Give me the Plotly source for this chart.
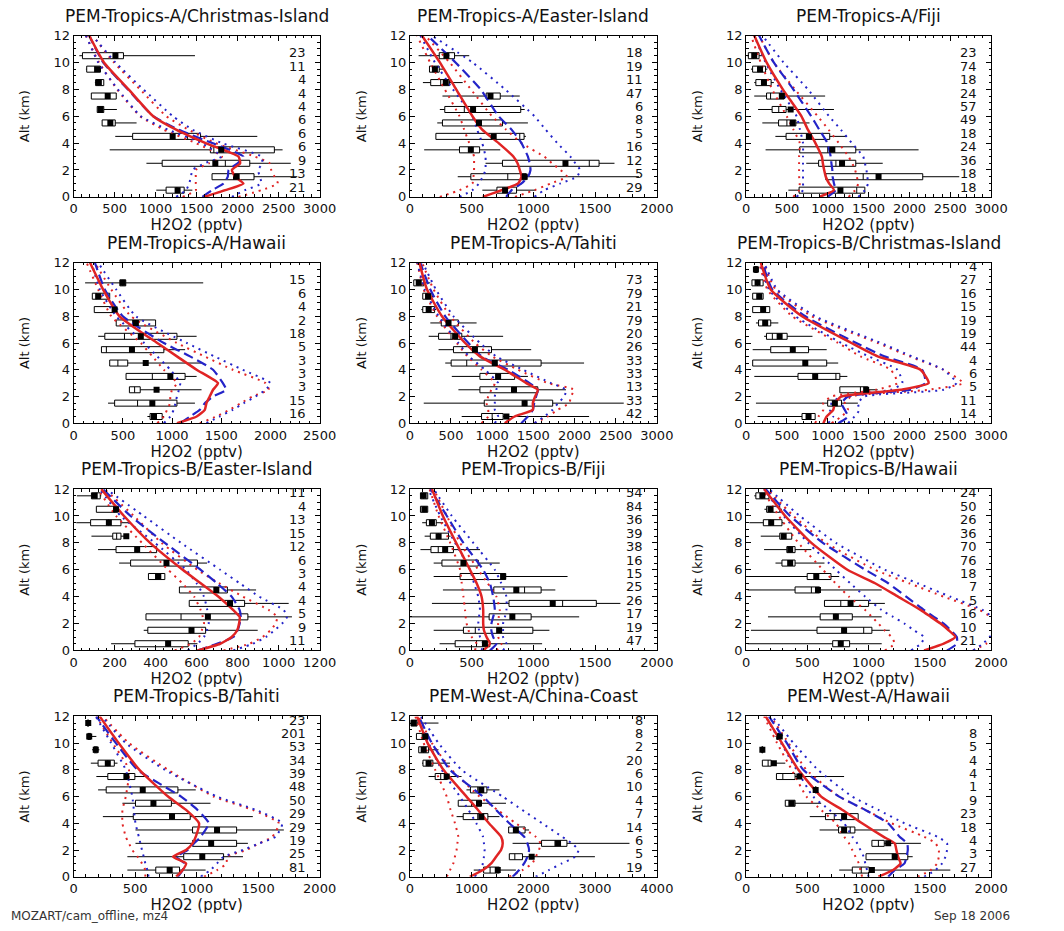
import plotly.graph_objects as go

# ---------------- common -----------------
ALT = [0, 0.5, 1, 1.5, 2, 2.5, 3, 4, 5, 6, 8, 10, 12]
BINS11 = [10.5, 9.5, 8.5, 7.5, 6.5, 5.5, 4.5, 3.5, 2.5, 1.5, 0.5]
BINS12 = [11.5, 10.5, 9.5, 8.5, 7.5, 6.5, 5.5, 4.5, 3.5, 2.5, 1.5, 0.5]

TITLES = ["PEM-Tropics-A/Christmas-Island", "PEM-Tropics-A/Easter-Island", "PEM-Tropics-A/Fiji",
          "PEM-Tropics-A/Hawaii", "PEM-Tropics-A/Tahiti", "PEM-Tropics-B/Christmas-Island",
          "PEM-Tropics-B/Easter-Island", "PEM-Tropics-B/Fiji", "PEM-Tropics-B/Hawaii",
          "PEM-Tropics-B/Tahiti", "PEM-West-A/China-Coast", "PEM-West-A/Hawaii"]
XMAX = [3000, 2000, 3000, 2500, 3000, 3000, 1200, 2000, 2000, 2000, 4000, 2000]
XDTICK = [500, 500, 500, 500, 500, 500, 200, 500, 500, 500, 1000, 500]

# ---------------- panel 1: A / Christmas-Island -----------------
p1_red = [1590, 1850, 2070, 1970, 1930, 2030, 2010, 1610, 1250, 970, 670, 370, 190]
p1_blue = [1570, 1690, 1830, 1880, 1890, 2000, 2070, 1690, 1280, 970, 660, 360, 190]
p1_rlo = [1330, 1490, 1490, 1490, 1490, 1650, 1810, 1490, 1100, 810, 530, 310, 150]
p1_rhi = [2010, 2290, 2490, 2450, 2410, 2390, 2210, 1730, 1400, 1130, 810, 490, 230]
p1_blo = [1250, 1370, 1410, 1430, 1450, 1600, 1800, 1560, 1150, 820, 540, 300, 150]
p1_bhi = [1930, 2090, 2290, 2270, 2250, 2300, 2290, 1810, 1450, 1210, 850, 510, 230]
p1_min = [70, 150, 260, 216, 288, 348, 508, 440, 888, 1688, 1008]
p1_q1 = [108, 160, 268, 216, 288, 348, 720, 1668, 1080, 1688, 1128]
p1_med = [520, 260, 300, 400, 320, 440, 1390, 1710, 1850, 1950, 1260]
p1_q3 = [608, 328, 368, 520, 368, 508, 1548, 2448, 2148, 2200, 1348]
p1_max = [1480, 328, 368, 520, 528, 768, 2240, 2548, 2648, 2728, 1448]
p1_mean = [510, 288, 308, 416, 328, 448, 1208, 1800, 1728, 1988, 1268]
p1_n = [23, 11, 4, 4, 4, 6, 6, 6, 9, 13, 21]

# ---------------- panel 2: A / Easter-Island -----------------
p2_red = [590, 745, 877, 904, 890, 872, 838, 719, 586, 507, 375, 243, 98]
p2_blue = [780, 824, 904, 956, 977, 970, 956, 904, 824, 719, 573, 370, 143]
p2_rlo = [243, 402, 507, 515, 520, 520, 520, 481, 440, 402, 283, 164, 58]
p2_rhi = [851, 1009, 1141, 1273, 1220, 1150, 1088, 904, 780, 666, 494, 322, 124]
p2_blo = [402, 507, 560, 590, 613, 613, 613, 586, 545, 507, 349, 203, 85]
p2_bhi = [1009, 1088, 1220, 1353, 1379, 1340, 1300, 1194, 1100, 1009, 771, 507, 177]
p2_min = [71, 159, 106, 264, 243, 222, 211, 116, 613, 388, 587]
p2_q1 = [238, 159, 169, 618, 283, 264, 211, 402, 750, 494, 705]
p2_med = [300, 200, 250, 660, 441, 560, 890, 500, 1453, 793, 770]
p2_q3 = [362, 238, 322, 732, 898, 750, 925, 565, 1532, 943, 864]
p2_max = [481, 270, 428, 890, 930, 956, 940, 732, 1657, 1855, 1022]
p2_mean = [296, 203, 291, 653, 512, 560, 679, 494, 1260, 930, 771]
p2_n = [18, 19, 11, 47, 6, 8, 5, 16, 12, 5, 29]

# ---------------- panel 3: A / Fiji -----------------
p3_red = [896, 1076, 1016, 976, 956, 940, 928, 849, 757, 677, 450, 251, 100]
p3_blue = [996, 1096, 1076, 1060, 1056, 1045, 1036, 996, 896, 797, 578, 339, 159]
p3_rlo = [578, 649, 657, 650, 649, 649, 649, 657, 580, 498, 319, 179, 60]
p3_rhi = [1255, 1335, 1374, 1355, 1335, 1300, 1255, 1135, 1010, 876, 598, 339, 159]
p3_blo = [618, 697, 697, 697, 697, 697, 697, 697, 660, 618, 418, 239, 100]
p3_bhi = [1374, 1454, 1494, 1484, 1474, 1455, 1434, 1295, 1160, 1016, 757, 458, 200]
p3_min = [10, 60, 100, 100, 147, 199, 359, 239, 737, 976, 518]
p3_q1 = [28, 80, 120, 251, 319, 398, 490, 657, 888, 976, 649]
p3_med = [90, 150, 200, 300, 400, 500, 800, 1000, 1100, 1434, 1355]
p3_q3 = [159, 239, 307, 466, 490, 610, 1024, 1343, 1343, 2163, 1454]
p3_max = [200, 260, 340, 968, 1076, 777, 1235, 2112, 1673, 2610, 1454]
p3_mean = [100, 171, 219, 438, 546, 570, 769, 1056, 1175, 1622, 1155]
p3_n = [23, 74, 18, 24, 57, 49, 18, 24, 36, 18, 18]

# ---------------- panel 4: A / Hawaii -----------------
p4_red = [1050, 1250, 1333, 1350, 1383, 1417, 1467, 1250, 1050, 850, 467, 300, 167]
p4_blue = [1083, 1183, 1283, 1333, 1417, 1550, 1517, 1417, 1183, 917, 500, 317, 217]
p4_rlo = [850, 917, 950, 980, 983, 1000, 1050, 917, 800, 683, 383, 250, 133]
p4_rhi = [1283, 1450, 1583, 1700, 1817, 1983, 1950, 1617, 1330, 1050, 583, 383, 217]
p4_blo = [917, 983, 1017, 1035, 1050, 1070, 1083, 983, 850, 717, 433, 267, 183]
p4_bhi = [1350, 1483, 1617, 1730, 1850, 1950, 2000, 1717, 1430, 1150, 633, 433, 250]
p4_min = [117, 190, 210, 433, 250, 283, 367, 533, 567, 350, 750]
p4_q1 = [470, 190, 210, 433, 317, 283, 367, 533, 567, 417, 777]
p4_med = [500, 230, 400, 600, 517, 333, 450, 800, 620, 650, 820]
p4_q3 = [530, 367, 417, 833, 1050, 917, 550, 1133, 677, 1050, 900]
p4_max = [1317, 367, 417, 833, 1250, 1133, 1300, 1250, 1300, 1233, 920]
p4_mean = [500, 250, 417, 633, 683, 593, 733, 983, 843, 800, 817]
p4_n = [15, 6, 4, 2, 18, 5, 3, 3, 3, 15, 16]

# ---------------- panel 5: A / Tahiti -----------------
p5_red = [1153, 1273, 1494, 1494, 1522, 1554, 1414, 1153, 851, 671, 390, 209, 116]
p5_blue = [1353, 1434, 1494, 1510, 1534, 1554, 1454, 1193, 871, 711, 430, 249, 128]
p5_rlo = [871, 952, 952, 932, 952, 990, 1032, 871, 700, 570, 329, 169, 90]
p5_rhi = [1514, 1675, 1795, 1936, 1956, 1996, 1675, 1313, 1000, 791, 490, 289, 149]
p5_blo = [1032, 1072, 1032, 1032, 1032, 1050, 1072, 912, 720, 590, 350, 181, 90]
p5_bhi = [1514, 1634, 1735, 1800, 1876, 1896, 1715, 1373, 1050, 851, 530, 317, 157]
p5_min = [48, 157, 140, 249, 229, 349, 430, 510, 590, 169, 630]
p5_q1 = [48, 157, 157, 382, 349, 530, 502, 851, 851, 904, 871]
p5_med = [100, 210, 220, 450, 500, 800, 691, 1050, 1250, 1400, 1000]
p5_q3 = [169, 269, 301, 590, 631, 992, 1594, 1273, 1554, 1735, 1133]
p5_max = [249, 290, 320, 811, 1133, 1474, 2116, 1434, 1896, 2598, 2177]
p5_mean = [108, 221, 229, 470, 550, 791, 1032, 1072, 1265, 1394, 1173]
p5_n = [73, 79, 21, 79, 20, 26, 33, 33, 13, 33, 42]

# ---------------- panel 6: B / Christmas-Island -----------------
p6_red = [946, 987, 1067, 1087, 1168, 1893, 2235, 2135, 1611, 1289, 685, 302, 181]
p6_blue = [1128, 1248, 1208, 1168, 1248, 2014, 2195, 2155, 1692, 1349, 725, 322, 201]
p6_rlo = [846, 886, 946, 946, 1047, 1591, 1852, 1772, 1400, 1128, 564, 262, 161]
p6_rhi = [1047, 1168, 1248, 1208, 1289, 2235, 2658, 2416, 2000, 1611, 805, 362, 209]
p6_blo = [1007, 1067, 1027, 1047, 1168, 1772, 1913, 1852, 1500, 1168, 604, 282, 169]
p6_bhi = [1248, 1329, 1389, 1369, 1450, 2416, 2577, 2416, 2030, 1651, 846, 382, 221]
p6_min = [101, 72, 81, 81, 121, 221, 81, 81, 101, 1148, 121, 141]
p6_q1 = [101, 72, 81, 81, 153, 250, 302, 81, 636, 1148, 999, 685]
p6_med = [121, 140, 160, 210, 230, 322, 570, 725, 1100, 1400, 1080, 760]
p6_q3 = [141, 209, 209, 290, 302, 503, 765, 987, 1148, 1490, 1168, 846]
p6_max = [141, 209, 209, 290, 395, 813, 987, 1128, 1240, 1611, 1369, 846]
p6_mean = [121, 141, 161, 209, 234, 411, 572, 725, 846, 1470, 1087, 765]
p6_n = [4, 27, 16, 15, 19, 19, 44, 4, 6, 5, 11, 14]

# ---------------- panel 7: B / Easter-Island -----------------
p7_red = [604, 715, 771, 798, 807, 810, 779, 707, 620, 532, 373, 246, 135]
p7_blue = [604, 699, 779, 800, 810, 815, 810, 771, 699, 620, 445, 278, 143]
p7_rlo = [493, 572, 612, 625, 636, 630, 620, 588, 530, 461, 334, 207, 119]
p7_rhi = [731, 858, 922, 960, 985, 993, 953, 826, 710, 604, 429, 294, 151]
p7_blo = [556, 604, 636, 650, 659, 655, 652, 636, 600, 548, 397, 230, 127]
p7_bhi = [779, 874, 938, 980, 1017, 1041, 1025, 906, 810, 715, 524, 342, 159]
p7_min = [16, 111, 13, 87, 119, 222, 365, 516, 564, 353, 342, 183]
p7_q1 = [87, 111, 83, 191, 207, 278, 365, 516, 564, 353, 362, 299]
p7_med = [110, 200, 170, 210, 310, 450, 400, 690, 760, 524, 570, 460]
p7_q3 = [130, 215, 231, 231, 405, 604, 445, 750, 834, 850, 644, 559]
p7_max = [135, 215, 278, 270, 405, 651, 445, 890, 1049, 1065, 898, 604]
p7_mean = [103, 207, 172, 257, 310, 453, 413, 696, 763, 655, 575, 461]
p7_n = [11, 4, 13, 15, 12, 6, 3, 4, 4, 5, 9, 11]

# ---------------- panel 8: B / Fiji -----------------
p8_red = [594, 648, 621, 600, 594, 594, 594, 581, 541, 487, 375, 268, 179]
p8_blue = [648, 701, 675, 660, 661, 675, 688, 675, 648, 594, 434, 300, 166]
p8_rlo = [527, 541, 501, 475, 460, 452, 447, 434, 420, 407, 327, 233, 160]
p8_rhi = [701, 742, 715, 715, 715, 720, 728, 701, 630, 554, 407, 300, 193]
p8_blo = [581, 594, 568, 560, 554, 560, 568, 554, 520, 487, 367, 246, 150]
p8_bhi = [755, 782, 755, 755, 755, 770, 782, 782, 740, 688, 514, 340, 193]
p8_min = [86, 86, 100, 120, 86, 193, 193, 268, 179, 0, 193, 241]
p8_q1 = [86, 86, 134, 166, 171, 260, 407, 680, 803, 642, 434, 367]
p8_med = [110, 115, 180, 230, 230, 430, 750, 929, 1237, 830, 530, 540]
p8_q3 = [145, 145, 214, 313, 353, 554, 776, 1063, 1510, 982, 996, 648]
p8_max = [145, 145, 270, 330, 568, 728, 1277, 1178, 1705, 1371, 1130, 1071]
p8_mean = [112, 118, 179, 233, 286, 434, 755, 862, 1157, 830, 723, 608]
p8_n = [54, 84, 36, 39, 38, 16, 15, 25, 26, 17, 19, 47]

# ---------------- panel 9: B / Hawaii -----------------
p9_red = [1453, 1613, 1707, 1653, 1587, 1507, 1427, 1240, 1053, 827, 533, 320, 147]
p9_blue = [1640, 1720, 1720, 1670, 1613, 1533, 1453, 1307, 1160, 973, 627, 360, 160]
p9_rlo = [1133, 1213, 1187, 1130, 1080, 1027, 973, 840, 730, 627, 427, 267, 133]
p9_rhi = [1853, 1960, 2040, 2080, 2120, 2000, 1907, 1613, 1330, 1053, 653, 387, 173]
p9_blo = [1347, 1427, 1453, 1370, 1293, 1200, 1107, 973, 850, 733, 507, 307, 147]
p9_bhi = [1853, 1933, 1987, 2040, 2093, 2010, 1933, 1667, 1400, 1133, 733, 440, 187]
p9_min = [67, 150, 27, 120, 147, 240, 13, 13, 640, 179, 40, 13]
p9_q1 = [80, 168, 141, 275, 333, 293, 499, 400, 640, 605, 579, 707]
p9_med = [130, 200, 200, 300, 360, 360, 570, 533, 773, 733, 960, 773]
p9_q3 = [187, 275, 293, 373, 400, 400, 693, 600, 1000, 867, 1027, 845]
p9_max = [195, 293, 307, 373, 533, 640, 760, 1107, 1133, 1107, 1173, 1107]
p9_mean = [133, 200, 205, 307, 360, 360, 573, 587, 853, 733, 800, 773]
p9_n = [24, 50, 26, 36, 70, 76, 18, 7, 5, 16, 10, 21]

# ---------------- panel 10: B / Tahiti -----------------
p10_red = [834, 887, 914, 808, 914, 967, 993, 1020, 914, 768, 535, 366, 212]
p10_blue = [848, 887, 901, 834, 927, 980, 1033, 1099, 1007, 874, 520, 344, 185]
p10_rlo = [583, 583, 556, 520, 477, 450, 424, 397, 397, 424, 450, 318, 185]
p10_rhi = [1060, 1166, 1245, 1245, 1404, 1510, 1616, 1669, 1457, 1139, 768, 450, 238]
p10_blo = [609, 600, 583, 570, 556, 543, 530, 503, 490, 477, 424, 305, 180]
p10_bhi = [1033, 1113, 1166, 1219, 1377, 1510, 1643, 1696, 1483, 1166, 742, 424, 230]
p10_min = [110, 110, 150, 140, 185, 199, 397, 238, 503, 503, 437, 437]
p10_q1 = [110, 115, 165, 199, 278, 265, 503, 485, 967, 967, 895, 668]
p10_med = [119, 127, 180, 278, 429, 562, 649, 800, 1166, 1118, 1046, 781]
p10_q3 = [125, 140, 195, 331, 498, 848, 795, 948, 1325, 1325, 1219, 861]
p10_max = [125, 185, 210, 357, 609, 993, 1113, 1457, 1709, 1417, 1377, 1073]
p10_mean = [119, 127, 180, 278, 429, 562, 649, 800, 1166, 1118, 1046, 781]
p10_n = [23, 201, 53, 34, 39, 48, 50, 29, 29, 19, 25, 81]

# ---------------- panel 11: West-A / China-Coast -----------------
p11_red = [971, 1184, 1317, 1397, 1477, 1504, 1477, 1280, 1104, 917, 544, 288, 117]
p11_blue = [1664, 1771, 1851, 1904, 1931, 1904, 1851, 1611, 1397, 1184, 651, 357, 144]
p11_rlo = [597, 651, 704, 730, 757, 770, 784, 731, 660, 597, 411, 224, 90]
p11_rhi = [1611, 1824, 1984, 2040, 2091, 2117, 2037, 1717, 1420, 1131, 677, 357, 144]
p11_blo = [1051, 1131, 1184, 1200, 1211, 1200, 1184, 1077, 950, 811, 517, 304, 117]
p11_bhi = [2037, 2251, 2464, 2677, 2731, 2624, 2464, 2144, 1820, 1504, 837, 464, 181]
p11_min = [11, 107, 144, 197, 304, 917, 784, 757, 1600, 1664, 1611, 1035]
p11_q1 = [21, 107, 144, 213, 411, 981, 784, 864, 1600, 2133, 1611, 1195]
p11_med = [60, 200, 220, 300, 500, 1100, 1000, 1100, 1700, 2350, 1700, 1300]
p11_q3 = [117, 277, 304, 373, 608, 1248, 1157, 1264, 1866, 2544, 1824, 1451]
p11_max = [464, 277, 464, 651, 837, 1451, 1557, 1451, 1931, 3557, 2997, 1717]
p11_mean = [64, 251, 224, 304, 597, 1157, 1120, 1157, 1717, 2400, 1973, 1424]
p11_n = [8, 8, 2, 20, 6, 10, 4, 7, 14, 6, 5, 19]

# ---------------- panel 12: West-A / Hawaii -----------------
p12_red = [1080, 1200, 1261, 1240, 1227, 1213, 1120, 947, 787, 613, 427, 293, 160]
p12_blue = [1160, 1213, 1293, 1310, 1320, 1315, 1253, 1160, 973, 760, 467, 333, 187]
p12_rlo = [947, 933, 920, 893, 867, 840, 800, 733, 613, 493, 373, 253, 147]
p12_rhi = [1400, 1507, 1560, 1573, 1573, 1547, 1453, 1187, 973, 760, 493, 347, 200]
p12_blo = [1000, 987, 973, 960, 933, 907, 867, 800, 680, 547, 413, 285, 160]
p12_bhi = [1453, 1547, 1600, 1627, 1640, 1640, 1560, 1293, 1080, 867, 587, 387, 213]
p12_min = [240, 125, 133, 248, 560, 320, 520, 600, 1027, 979, 760]
p12_q1 = [250, 128, 133, 248, 563, 320, 648, 755, 1027, 979, 867]
p12_med = [265, 133, 180, 300, 568, 350, 720, 850, 1080, 1200, 940]
p12_q3 = [280, 138, 205, 400, 573, 400, 915, 888, 1128, 1320, 1005]
p12_max = [290, 140, 320, 800, 580, 613, 915, 1160, 1427, 1360, 1667]
p12_mean = [275, 133, 227, 435, 568, 373, 800, 800, 1160, 1213, 1027]
p12_n = [8, 5, 4, 4, 1, 9, 23, 18, 4, 3, 27]

PANELS = [
    (BINS11, p1_red, p1_blue, p1_rlo, p1_rhi, p1_blo, p1_bhi, p1_min, p1_q1, p1_med, p1_q3, p1_max, p1_mean, p1_n),
    (BINS11, p2_red, p2_blue, p2_rlo, p2_rhi, p2_blo, p2_bhi, p2_min, p2_q1, p2_med, p2_q3, p2_max, p2_mean, p2_n),
    (BINS11, p3_red, p3_blue, p3_rlo, p3_rhi, p3_blo, p3_bhi, p3_min, p3_q1, p3_med, p3_q3, p3_max, p3_mean, p3_n),
    (BINS11, p4_red, p4_blue, p4_rlo, p4_rhi, p4_blo, p4_bhi, p4_min, p4_q1, p4_med, p4_q3, p4_max, p4_mean, p4_n),
    (BINS11, p5_red, p5_blue, p5_rlo, p5_rhi, p5_blo, p5_bhi, p5_min, p5_q1, p5_med, p5_q3, p5_max, p5_mean, p5_n),
    (BINS12, p6_red, p6_blue, p6_rlo, p6_rhi, p6_blo, p6_bhi, p6_min, p6_q1, p6_med, p6_q3, p6_max, p6_mean, p6_n),
    (BINS12, p7_red, p7_blue, p7_rlo, p7_rhi, p7_blo, p7_bhi, p7_min, p7_q1, p7_med, p7_q3, p7_max, p7_mean, p7_n),
    (BINS12, p8_red, p8_blue, p8_rlo, p8_rhi, p8_blo, p8_bhi, p8_min, p8_q1, p8_med, p8_q3, p8_max, p8_mean, p8_n),
    (BINS12, p9_red, p9_blue, p9_rlo, p9_rhi, p9_blo, p9_bhi, p9_min, p9_q1, p9_med, p9_q3, p9_max, p9_mean, p9_n),
    (BINS12, p10_red, p10_blue, p10_rlo, p10_rhi, p10_blo, p10_bhi, p10_min, p10_q1, p10_med, p10_q3, p10_max, p10_mean, p10_n),
    (BINS12, p11_red, p11_blue, p11_rlo, p11_rhi, p11_blo, p11_bhi, p11_min, p11_q1, p11_med, p11_q3, p11_max, p11_mean, p11_n),
    (BINS11, p12_red, p12_blue, p12_rlo, p12_rhi, p12_blo, p12_bhi, p12_min, p12_q1, p12_med, p12_q3, p12_max, p12_mean, p12_n),
]

# ---------------- layout geometry (pixels) -----------------
W, H = 1064, 931
COLS = [(71, 322), (414, 666), (757, 1007)]
ROWS = [(29, 193), (260, 423), (490, 654), (721, 884)]

FONT = "DejaVu Sans"
RED = "#e02424"
BLUE = "#2424c8"

fig = go.Figure()
layout = dict(
    width=W, height=H, margin=dict(l=0, r=0, t=0, b=0),
    paper_bgcolor="white", plot_bgcolor="white",
    showlegend=False, font=dict(family=FONT, color="#111111"),
    hovermode=False,
)
annotations = []

for i, (bins, red, blue, rlo, rhi, blo, bhi, bmin, bq1, bmed, bq3, bmax, bmean, bn) in enumerate(PANELS):
    n = i + 1
    sfx = "" if n == 1 else str(n)
    xa, ya = "x" + sfx, "y" + sfx
    r, c = divmod(i, 3)
    x0, x1 = COLS[c]
    t0, t1 = ROWS[r]
    dom_x = [x0 / W, x1 / W]
    dom_y = [1 - t1 / H, 1 - t0 / H]

    layout["xaxis" + sfx] = dict(
        domain=dom_x, anchor=ya, range=[0, XMAX[i]], tick0=0, dtick=XDTICK[i],
        ticks="inside", ticklen=5, tickwidth=1, tickcolor="black",
        showline=True, linecolor="black", linewidth=1, mirror="allticks",
        showgrid=False, zeroline=False, tickangle=0,
        tickfont=dict(family=FONT, size=13, color="#111111"),
        minor=dict(dtick=XDTICK[i] / 5, ticks="inside", ticklen=2.5, tickcolor="black", showgrid=False),
        title=dict(text="H2O2 (pptv)", font=dict(family=FONT, size=15, color="#111111"), standoff=0),
        fixedrange=True,
    )
    layout["yaxis" + sfx] = dict(
        domain=dom_y, anchor=xa, range=[0, 12], tick0=0, dtick=2,
        ticks="inside", ticklen=5, tickwidth=1, tickcolor="black",
        showline=True, linecolor="black", linewidth=1, mirror="allticks",
        showgrid=False, zeroline=False,
        tickfont=dict(family=FONT, size=13, color="#111111"),
        minor=dict(dtick=0.5, ticks="inside", ticklen=2.5, tickcolor="black", showgrid=False),
        title=dict(text="Alt (km)", font=dict(family=FONT, size=13, color="#111111"), standoff=20),
        fixedrange=True,
    )

    # box-and-whisker statistics of the observations
    fig.add_trace(go.Box(
        y=bins, q1=bq1, median=bmed, q3=bq3, lowerfence=bmin, upperfence=bmax,
        orientation="h", width=0.45, whiskerwidth=0, boxpoints=False,
        fillcolor="white", line=dict(color="black", width=1),
        xaxis=xa, yaxis=ya, hoverinfo="skip",
    ))

    # model profiles
    sp = dict(shape="spline", smoothing=0.5)
    fig.add_trace(go.Scatter(x=rlo, y=ALT, mode="lines", xaxis=xa, yaxis=ya,
                             line=dict(color=RED, width=2, dash="2px,5px", **sp)))
    fig.add_trace(go.Scatter(x=rhi, y=ALT, mode="lines", xaxis=xa, yaxis=ya,
                             line=dict(color=RED, width=2, dash="2px,5px", **sp)))
    fig.add_trace(go.Scatter(x=blo, y=ALT, mode="lines", xaxis=xa, yaxis=ya,
                             line=dict(color=BLUE, width=2, dash="2px,5px", **sp)))
    fig.add_trace(go.Scatter(x=bhi, y=ALT, mode="lines", xaxis=xa, yaxis=ya,
                             line=dict(color=BLUE, width=2, dash="2px,5px", **sp)))
    fig.add_trace(go.Scatter(x=blue, y=ALT, mode="lines", xaxis=xa, yaxis=ya,
                             line=dict(color=BLUE, width=2.2, dash="10px,5px", **sp)))
    fig.add_trace(go.Scatter(x=red, y=ALT, mode="lines", xaxis=xa, yaxis=ya,
                             line=dict(color=RED, width=2.5, **sp)))

    # observed means
    fig.add_trace(go.Scatter(x=bmean, y=bins, mode="markers", xaxis=xa, yaxis=ya,
                             marker=dict(symbol="square", size=6, color="black")))

    # panel title
    annotations.append(dict(
        text=TITLES[i], xref="x%s domain" % sfx, yref="y%s domain" % sfx,
        x=0.5, y=1, xanchor="center", yanchor="bottom", yshift=8, showarrow=False,
        font=dict(family=FONT, size=17, color="#111111"),
    ))
    # number of observations per altitude bin
    for b, cnt in zip(bins, bn):
        annotations.append(dict(
            text=str(cnt), xref="x%s domain" % sfx, yref=ya,
            x=0.952, y=b + 0.22, xanchor="right", yanchor="middle", showarrow=False,
            font=dict(family=FONT, size=13, color="#111111"),
        ))

annotations.append(dict(text="MOZART/cam_offline, mz4", xref="paper", yref="paper",
                        x=5 / W, y=1 - 924 / H, xanchor="left", yanchor="middle", showarrow=False,
                        font=dict(family=FONT, size=12, color="#333333")))
annotations.append(dict(text="Sep 18 2006", xref="paper", yref="paper",
                        x=1028 / W, y=1 - 924 / H, xanchor="right", yanchor="middle", showarrow=False,
                        font=dict(family=FONT, size=12, color="#333333")))

layout["annotations"] = annotations
fig.update_layout(**layout)
fig.write_html("out.html")
